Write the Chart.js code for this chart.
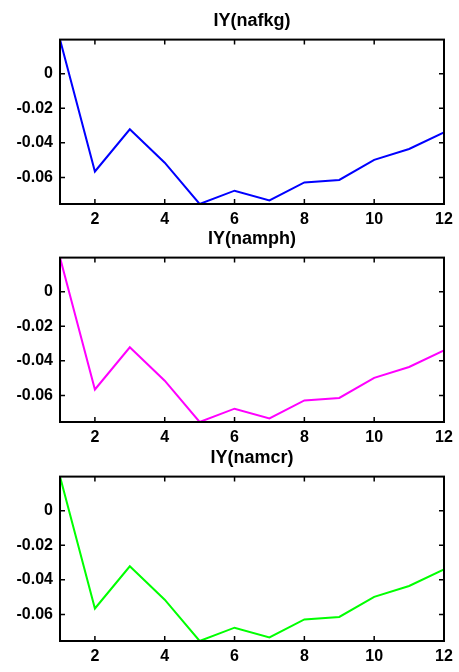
<!DOCTYPE html>
<html>
<head>
<meta charset="utf-8">
<script src="https://cdn.jsdelivr.net/npm/chart.js@4/dist/chart.umd.min.js"></script>
<style>
  html, body { margin: 0; padding: 0; background: #fff; }
  #wrap { position: relative; width: 459px; height: 672px; overflow: hidden; background: #fff; }
  #wrap canvas { position: absolute; left: 0; }
</style>
</head>
<body>
<div id="wrap">
  <canvas id="c1" width="459" height="235" style="top:0px;width:459px;height:235px"></canvas>
  <canvas id="c2" width="459" height="235" style="top:218px;width:459px;height:235px"></canvas>
  <canvas id="c3" width="459" height="235" style="top:437px;width:459px;height:235px"></canvas>
</div>
<script>
// Impulse response horizons (periods 1..12)
const horizons = [1, 2, 3, 4, 5, 6, 7, 8, 9, 10, 11, 12];
const xTickValues = [2, 4, 6, 8, 10, 12];
const yTickValues = [0, -0.02, -0.04, -0.06];
const yTickLabels = ['0', '-0.02', '-0.04', '-0.06'];

// Responses of IY to each shock
const nafkg = [0.0197, -0.0566, -0.0322, -0.0515, -0.0754, -0.0677, -0.0733, -0.0629, -0.0615, -0.0499, -0.0436, -0.0340];
const namph = [0.0197, -0.0566, -0.0322, -0.0515, -0.0754, -0.0677, -0.0733, -0.0629, -0.0615, -0.0499, -0.0436, -0.0340];
const namcr = [0.0197, -0.0566, -0.0322, -0.0515, -0.0754, -0.0677, -0.0733, -0.0629, -0.0615, -0.0499, -0.0436, -0.0340];

const panelTitles = ['IY(nafkg)', 'IY(namph)', 'IY(namcr)'];
const panelSeries = [nafkg, namph, namcr];
const panelColors = ['#0000ff', '#ff00ff', '#00ff00'];

const FAMILY = "'Liberation Sans', Arial, sans-serif";
const TICK_FONT = { family: FAMILY, size: 16, weight: 'bold' };
const TITLE_FONT = { family: FAMILY, size: 18, weight: 'bold' };

// Box around the axes plus inward-pointing tick marks on all four sides
const framePlugin = {
  id: 'frame',
  afterDatasetsDraw(chart) {
    const { ctx, chartArea: a, scales: { x, y } } = chart;
    const len = 5;
    ctx.save();
    ctx.strokeStyle = '#000';
    ctx.lineWidth = 1.5;
    ctx.beginPath();
    x.ticks.forEach(t => {
      const px = x.getPixelForValue(t.value);
      ctx.moveTo(px, a.bottom); ctx.lineTo(px, a.bottom - len);
      ctx.moveTo(px, a.top); ctx.lineTo(px, a.top + len);
    });
    y.ticks.forEach(t => {
      const py = y.getPixelForValue(t.value);
      ctx.moveTo(a.left, py); ctx.lineTo(a.left + len, py);
      ctx.moveTo(a.right, py); ctx.lineTo(a.right - len, py);
    });
    ctx.stroke();
    ctx.lineWidth = 2;
    ctx.strokeRect(a.left, a.top, a.right - a.left, a.bottom - a.top);
    ctx.restore();
  }
};

function makePanel(canvasId, title, series, color) {
  const points = horizons.map((h, i) => ({ x: h, y: series[i] }));
  return new Chart(document.getElementById(canvasId), {
    type: 'line',
    data: {
      datasets: [{
        data: points,
        borderColor: color,
        borderWidth: 2,
        pointRadius: 0,
        tension: 0,
        fill: false
      }]
    },
    options: {
      responsive: false,
      animation: false,
      events: [],
      layout: { padding: { left: 0, right: 15, top: 0, bottom: 0 } },
      plugins: {
        legend: { display: false },
        tooltip: { enabled: false },
        title: {
          display: true,
          fullSize: false,   // centre the title over the plot box
          text: title,
          color: '#000',
          font: TITLE_FONT,
          padding: { top: 10, bottom: 8 }
        }
      },
      scales: {
        x: {
          type: 'linear',
          min: horizons[0],
          max: horizons[horizons.length - 1],
          grid: { display: false, drawTicks: false },
          border: { display: false },
          afterBuildTicks: s => { s.ticks = xTickValues.map(v => ({ value: v })); },
          afterFit: s => { s.height = 31; },
          ticks: { color: '#000', font: TICK_FONT, padding: 6, maxRotation: 0, autoSkip: false }
        },
        y: {
          type: 'linear',
          min: Math.min(...series),
          max: Math.max(...series),
          grid: { display: false, drawTicks: false },
          border: { display: false },
          afterBuildTicks: s => { s.ticks = yTickValues.map(v => ({ value: v })); },
          afterFit: s => { s.width = 60; },
          ticks: {
            color: '#000',
            font: TICK_FONT,
            padding: 7,
            autoSkip: false,
            callback: v => yTickLabels[yTickValues.indexOf(v)]
          }
        }
      }
    },
    plugins: [framePlugin]
  });
}

['c1', 'c2', 'c3'].forEach((id, i) => makePanel(id, panelTitles[i], panelSeries[i], panelColors[i]));
</script>
</body>
</html>
